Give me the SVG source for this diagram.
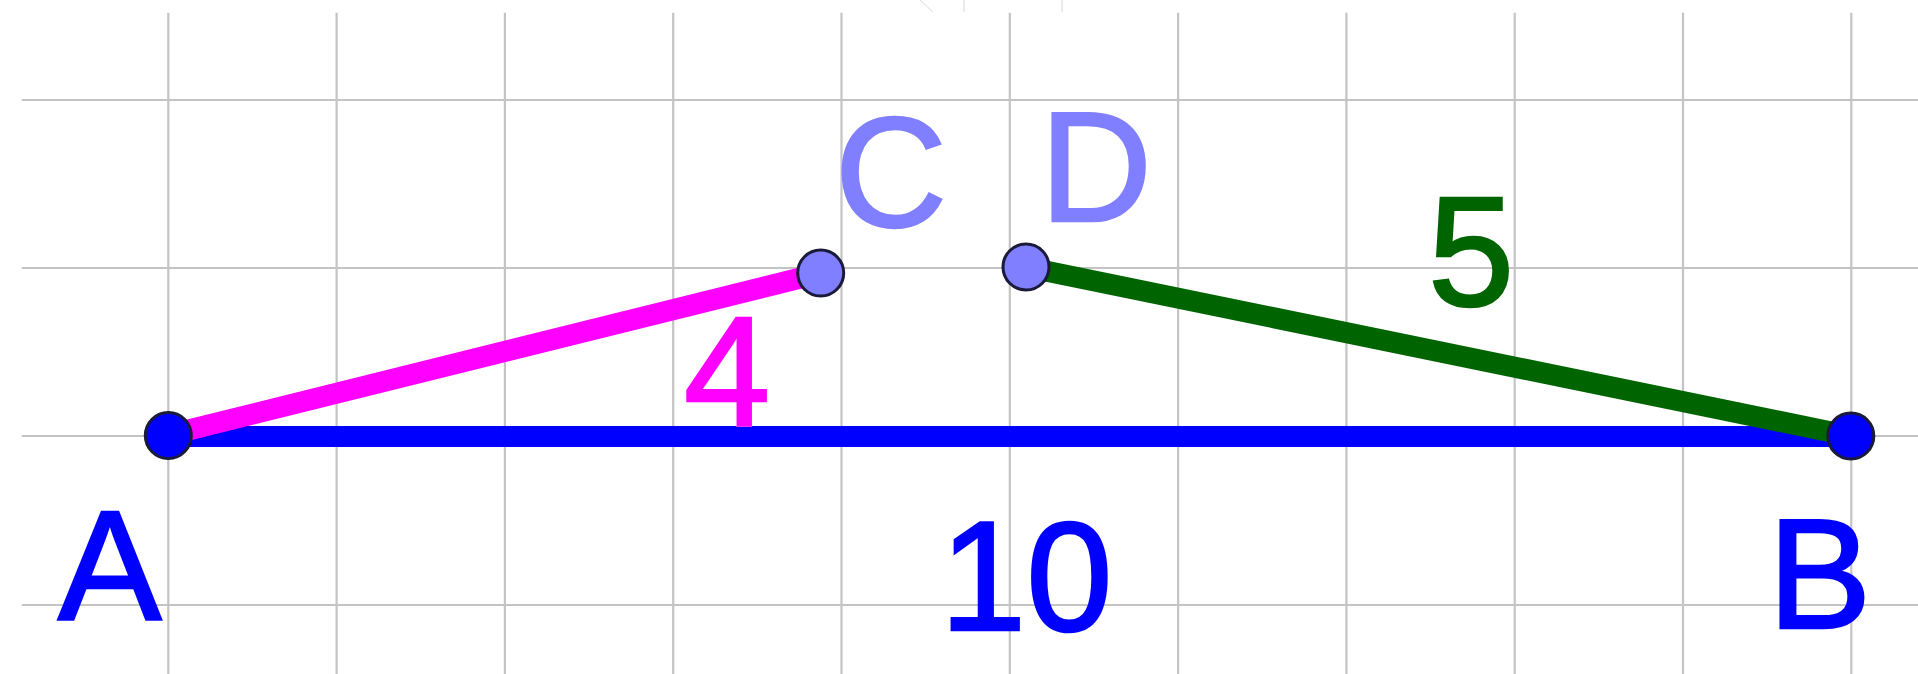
<svg xmlns="http://www.w3.org/2000/svg" width="1918" height="674" viewBox="0 0 1918 674">
<style>
.grid line{stroke:#c4c4c4;stroke-width:2.2}
.seg{stroke-width:21;stroke-linecap:butt}
.pt{stroke:#1a1a3a;stroke-width:3}
.lbl{font-family:"Liberation Sans",Arial,sans-serif;font-size:155px;stroke-width:2.5}
</style>
<rect width="1918" height="674" fill="#ffffff"/>
<g id="artifacts" stroke="#d8d8d8" stroke-width="1">
<line x1="920" y1="0" x2="933" y2="12"/>
<line x1="964" y1="0" x2="964" y2="12"/>
<line x1="1062" y1="0" x2="1062" y2="12"/>
</g>
<g id="grid" class="grid">
<line x1="168.3" y1="12.7" x2="168.3" y2="674"/>
<line x1="336.6" y1="12.7" x2="336.6" y2="674"/>
<line x1="504.9" y1="12.7" x2="504.9" y2="674"/>
<line x1="673.2" y1="12.7" x2="673.2" y2="674"/>
<line x1="841.5" y1="12.7" x2="841.5" y2="674"/>
<line x1="1009.8" y1="12.7" x2="1009.8" y2="674"/>
<line x1="1178.1" y1="12.7" x2="1178.1" y2="674"/>
<line x1="1346.4" y1="12.7" x2="1346.4" y2="674"/>
<line x1="1514.7" y1="12.7" x2="1514.7" y2="674"/>
<line x1="1683" y1="12.7" x2="1683" y2="674"/>
<line x1="1851.3" y1="12.7" x2="1851.3" y2="674"/>
<line x1="21.7" y1="100" x2="1918" y2="100"/>
<line x1="21.7" y1="268" x2="1918" y2="268"/>
<line x1="21.7" y1="436" x2="1918" y2="436"/>
<line x1="21.7" y1="605" x2="1918" y2="605"/>
</g>
<g id="connectors">
<line id="AB" class="seg" x1="168.3" y1="436.5" x2="1850.8" y2="436.5" stroke="#0000ff"/>
<line id="AC" class="seg" x1="168.3" y1="435" x2="820.7" y2="273" stroke="#ff00ff"/>
<line id="DB" class="seg" x1="1026" y1="267" x2="1850.8" y2="436" stroke="#006400"/>
</g>
<g id="labels-seg">
<text x="684" y="425" class="lbl" fill="none" stroke="#ffffff" stroke-width="8">4</text>
<text class="lbl" x="684" y="425" fill="#ff00ff" stroke="#ff00ff">4</text>
<text class="lbl" x="1428" y="305" fill="#006400" stroke="#006400">5</text>
<text class="lbl" x="940" y="630" fill="#0000ff" stroke="#0000ff">10</text>
</g>
<g id="A"><circle class="pt" cx="168.3" cy="435.5" r="23" fill="#0000ff"/><text class="lbl" x="58" y="619" fill="#0000ff" stroke="#0000ff">A</text></g>
<g id="B"><circle class="pt" cx="1850.8" cy="436" r="23" fill="#0000ff"/><text class="lbl" x="1768" y="628" fill="#0000ff" stroke="#0000ff">B</text></g>
<g id="C"><circle class="pt" cx="820.7" cy="273" r="23" fill="#7f7fff"/><text class="lbl" x="835" y="226" fill="#7f7fff" stroke="#7f7fff">C</text></g>
<g id="D"><circle class="pt" cx="1026" cy="267" r="23" fill="#7f7fff"/><text class="lbl" x="1040" y="221" fill="#7f7fff" stroke="#7f7fff">D</text></g>
</svg>
